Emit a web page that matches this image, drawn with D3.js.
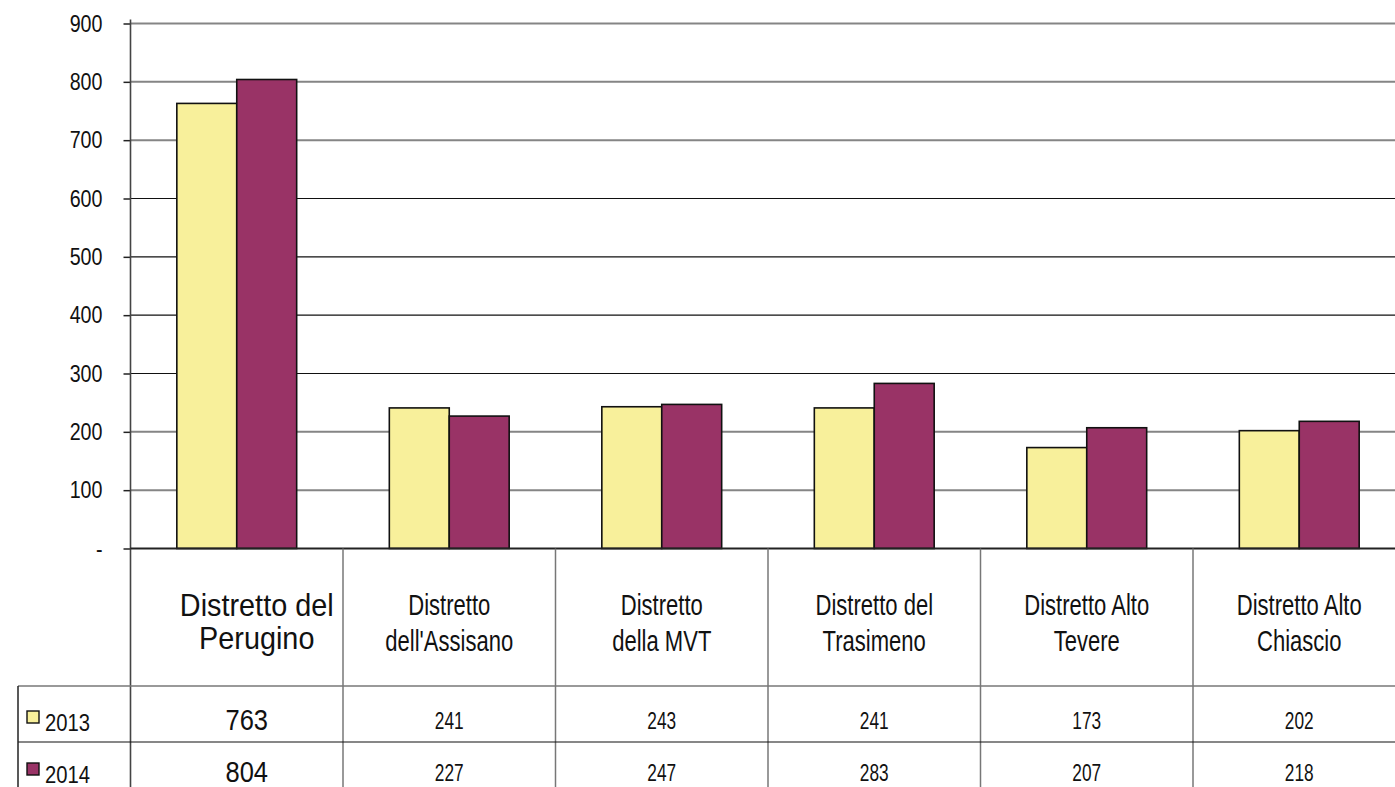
<!DOCTYPE html>
<html>
<head>
<meta charset="utf-8">
<script src="https://cdn.jsdelivr.net/npm/d3@7"></script>
<style>
  html, body { margin: 0; padding: 0; background: #fff; }
  svg { display: block; font-family: "Liberation Sans", Arial, sans-serif; }
</style>
</head>
<body>
<svg id="chart" width="1395" height="787"></svg>
<script>
// Districts (two-line header labels) and yearly values
const categories = ["Distretto del Perugino", "Distretto dell'Assisano", "Distretto della MVT",
                    "Distretto del Trasimeno", "Distretto Alto Tevere", "Distretto Alto Chiascio"];
const headerLines = [["Distretto del", "Perugino"], ["Distretto", "dell'Assisano"], ["Distretto", "della MVT"],
                     ["Distretto del", "Trasimeno"], ["Distretto Alto", "Tevere"], ["Distretto Alto", "Chiascio"]];
const seriesNames = ["2013", "2014"];
const values2013 = [763, 241, 243, 241, 173, 202];
const values2014 = [804, 227, 247, 283, 207, 218];
const yTicks = [0, 100, 200, 300, 400, 500, 600, 700, 800, 900];
const colors = ["#F8F09B", "#993366"];

const seriesValues = [values2013, values2014];
const data = categories.map((c, i) => ({ cat: c, vals: seriesValues.map(v => v[i]) }));

const svg = d3.select("#chart");

// condensed lettering: a text placed at (tx, ty) and squeezed horizontally by k
function condensed(parent, tx, ty, str, size, k, anchor) {
  return parent.append("text")
    .attr("transform", `translate(${tx},${ty}) scale(${k},1)`)
    .attr("text-anchor", anchor || "middle").attr("fill", "#111")
    .attr("font-size", size).text(str);
}

const plotLeft = 130.5, bandW = 212.5, plotTop = 23.5, base = 548.5;
const x = d3.scaleBand().domain(categories).range([plotLeft, plotLeft + bandW * categories.length]).padding(0);
const x1 = d3.scaleBand().domain(seriesNames).range([bandW * 0.218, bandW * 0.782]).padding(0);
const y = d3.scaleLinear().domain([0, 900]).range([base, plotTop]);

// gridlines (the middle band of lines is drawn darker and thinner)
const dark = v => v >= 300 && v <= 600;
svg.append("g").selectAll("line").data(yTicks.filter(v => v > 0)).join("line")
  .attr("x1", plotLeft).attr("x2", 1395)
  .attr("y1", d => y(d)).attr("y2", d => y(d))
  .attr("stroke", d => dark(d) ? "#111" : "#858585")
  .attr("stroke-width", d => dark(d) ? 1.2 : 2);

// y axis: tick marks on the left, labels squeezed around their right edge
const yAxis = d3.axisLeft(y).tickValues(yTicks).tickSize(7).tickPadding(21)
  .tickFormat(d => d === 0 ? "-" : d3.format("d")(d));
const ga = svg.append("g").attr("transform", `translate(${plotLeft},0)`).call(yAxis);
ga.select(".domain").remove();
ga.selectAll(".tick line").attr("stroke", "#222").attr("stroke-width", 1.5);
ga.selectAll(".tick text").attr("font-size", 24).attr("fill", "#111")
  .attr("font-family", "Liberation Sans, Arial, sans-serif")
  .attr("x", null).attr("transform", "translate(-28,0) scale(0.82,1)");
svg.append("line").attr("x1", plotLeft).attr("x2", plotLeft).attr("y1", plotTop - 4).attr("y2", 787)
  .attr("stroke", "#444").attr("stroke-width", 1.6);

// bars
const groups = svg.append("g").selectAll("g").data(data).join("g")
  .attr("transform", d => `translate(${x(d.cat)},0)`);
groups.selectAll("rect").data(d => d.vals.map((v, i) => ({ s: seriesNames[i], v, i }))).join("rect")
  .attr("x", d => x1(d.s)).attr("width", x1.bandwidth())
  .attr("y", d => y(d.v)).attr("height", d => y(0) - y(d.v))
  .attr("fill", d => colors[d.i]).attr("stroke", "#111").attr("stroke-width", 1.6);

// baseline
svg.append("line").attr("x1", plotLeft).attr("x2", 1395).attr("y1", base).attr("y2", base)
  .attr("stroke", "#222").attr("stroke-width", 2);

// data table grid
const tbl = svg.append("g");
const rowTop = 686, rowMid = 742;
categories.forEach((c, i) => {
  if (i > 0) tbl.append("line").attr("x1", x(c)).attr("x2", x(c)).attr("y1", base).attr("y2", 787)
    .attr("stroke", "#777").attr("stroke-width", 1.5);
});
tbl.append("line").attr("x1", 18).attr("x2", 1395).attr("y1", rowTop).attr("y2", rowTop)
  .attr("stroke", "#777").attr("stroke-width", 1.5);
tbl.append("line").attr("x1", 18).attr("x2", 1395).attr("y1", rowMid).attr("y2", rowMid)
  .attr("stroke", "#111").attr("stroke-width", 1.2);
tbl.append("line").attr("x1", 18).attr("x2", 18).attr("y1", rowTop).attr("y2", 787)
  .attr("stroke", "#222").attr("stroke-width", 1.5);

// header labels, two lines per district (the first district is set larger)
const cx = c => x(c) + x.bandwidth() / 2;
categories.forEach((c, i) => {
  const big = i === 0;
  headerLines[i].forEach((ln, k) => {
    condensed(tbl, cx(c) + (big ? 20 : 0),
      big ? (k === 0 ? 616 : 649) : (k === 0 ? 615 : 651),
      ln, big ? 31 : 29, big ? 0.93 : 0.76);
  });
});

// value rows
const rowBase = [729, 781];
seriesValues.forEach((vals, s) => {
  vals.forEach((v, i) => {
    const big = i === 0;
    condensed(tbl, cx(categories[i]) + (big ? 10 : 0), rowBase[s] + (big ? 1 : 0),
      d3.format("d")(v), big ? 30 : 24, big ? 0.85 : 0.72);
  });
});

// legend keys in the table's first column
seriesNames.forEach((n, s) => {
  tbl.append("rect").attr("x", 27).attr("y", rowBase[s] - 18).attr("width", 12).attr("height", 12)
    .attr("fill", colors[s]).attr("stroke", "#111").attr("stroke-width", 1.4);
  condensed(tbl, 45, rowBase[s] + 2, n, 23, 0.88, "start");
});
</script>
</body>
</html>
